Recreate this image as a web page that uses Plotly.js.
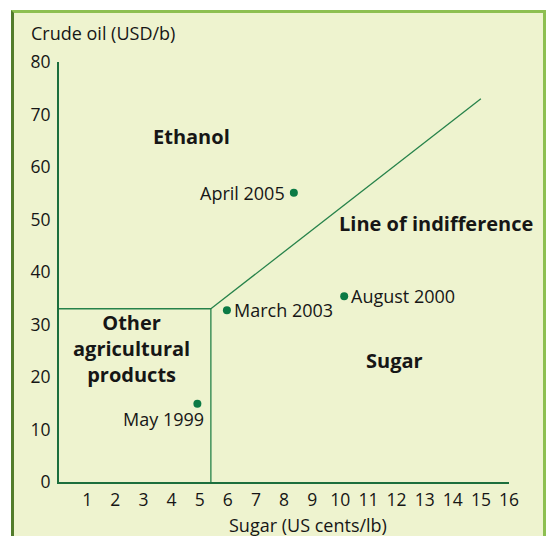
<!DOCTYPE html>
<html>
<head>
<meta charset="utf-8">
<script src="https://cdn.plot.ly/plotly-3.0.1.min.js"></script>
<style>
  html, body { margin: 0; padding: 0; background: #ffffff; width: 546px; height: 536px; overflow: hidden; }
  #frame {
    position: absolute; left: 11px; top: 10px; width: 529px; height: 600px;
    background: #eef3cf;
    border-left: 3px solid #527c2b;
    border-top: 3px solid #8dbf51;
    border-right: 3px solid #8dbf51;
  }
  #chart { position: absolute; left: 0; top: 0; width: 546px; height: 536px; }
</style>
</head>
<body>
<div id="frame"></div>
<div id="chart"></div>
<script>
// ---- data ----
const pointNames  = ["April 2005", "March 2003", "August 2000", "May 1999"];
const sugarPrices = [8.35, 5.97, 10.14, 4.92];   // US cents/lb
const oilPrices   = [55.1, 32.7, 35.4, 14.9];    // USD/b

const otherBoundaryX = [0, 5.4, 5.4];
const otherBoundaryY = [33, 33, 0];
const indifferenceX  = [5.4, 15];
const indifferenceY  = [33, 73];

const xTickValues = [1,2,3,4,5,6,7,8,9,10,11,12,13,14,15,16];
const yTickValues = [0,10,20,30,40,50,60,70,80];

// ---- styles ----
const FONT = "Open Sans, Noto Sans, sans-serif";
const TXT = "#161616";
const AXIS_GREEN = "#1c6e3d";
const LINE_GREEN = "#26824a";
const DOT_GREEN = "#0b7a45";
const LABEL_SIZE = 18;
const TICK_SIZE = 17.5;
const BOLD_SIZE = 20;
// label placement styles per point (anchor, shifts)
const labelStyles = [
  {xanchor: "right", yanchor: "middle", xshift: -7, yshift: 0},
  {xanchor: "left",  yanchor: "middle", xshift: 5,  yshift: 0},
  {xanchor: "left",  yanchor: "middle", xshift: 5,  yshift: 0},
  {xanchor: "right", yanchor: "middle", xshift: 9,  yshift: -15}
];

const traces = [
  {x: otherBoundaryX, y: otherBoundaryY, type: "scatter", mode: "lines",
   line: {color: LINE_GREEN, width: 1.3}, hoverinfo: "skip", cliponaxis: false},
  {x: indifferenceX, y: indifferenceY, type: "scatter", mode: "lines",
   line: {color: LINE_GREEN, width: 1.3}, hoverinfo: "skip", cliponaxis: false},
  {x: sugarPrices, y: oilPrices, type: "scatter", mode: "markers",
   marker: {color: DOT_GREEN, size: 8}, text: pointNames, hoverinfo: "text", cliponaxis: false}
];

const pointAnnotations = pointNames.map((name, i) => Object.assign({
  x: sugarPrices[i], y: oilPrices[i], xref: "x", yref: "y",
  text: name, showarrow: false,
  font: {family: FONT, size: LABEL_SIZE, color: TXT}
}, labelStyles[i]));

const regionFont = {family: FONT, size: BOLD_SIZE, color: TXT};
const regionAnnotations = [
  {x: 4.71, y: 65.9, text: "<b>Ethanol</b>"},
  {x: 13.39, y: 49.2, text: "<b>Line of indifference</b>"},
  {x: 2.56, y: 25.4, text: "<b>Other<br>agricultural<br>products</b>"},
  {x: 11.92, y: 23.2, text: "<b>Sugar</b>"}
].map(a => Object.assign({xref: "x", yref: "y", showarrow: false, xanchor: "center", yanchor: "middle",
  font: regionFont, align: "center"}, a));

const titleAnnotations = [
  {xref: "paper", yref: "paper", x: -0.067, y: 1.070, xanchor: "left", yanchor: "middle",
   text: "Crude oil (USD/b)", showarrow: false, font: {family: FONT, size: LABEL_SIZE, color: TXT}},
  {xref: "paper", yref: "paper", x: 0.553, y: -0.103, xanchor: "center", yanchor: "middle",
   text: "Sugar (US cents/lb)", showarrow: false, font: {family: FONT, size: LABEL_SIZE, color: TXT}}
];

const layout = {
  width: 546, height: 536,
  margin: {l: 59, r: 37, t: 62, b: 54, pad: 0},
  paper_bgcolor: "rgba(0,0,0,0)",
  plot_bgcolor: "rgba(0,0,0,0)",
  showlegend: false,
  font: {family: FONT, size: TICK_SIZE, color: TXT},
  xaxis: {
    range: [0, 16], showgrid: false, zeroline: false,
    showline: true, linecolor: AXIS_GREEN, linewidth: 2,
    tickmode: "array", tickvals: xTickValues, ticktext: xTickValues.map(String),
    ticks: "", ticklabelstandoff: 1,
    tickfont: {family: FONT, size: TICK_SIZE, color: TXT}, fixedrange: true
  },
  yaxis: {
    range: [0, 80], showgrid: false, zeroline: false,
    showline: true, linecolor: AXIS_GREEN, linewidth: 2,
    tickmode: "array", tickvals: yTickValues, ticktext: yTickValues.map(String),
    ticks: "", ticklabelstandoff: 3,
    tickfont: {family: FONT, size: TICK_SIZE, color: TXT}, fixedrange: true
  },
  annotations: pointAnnotations.concat(regionAnnotations, titleAnnotations)
};

Plotly.newPlot("chart", traces, layout, {displayModeBar: false, staticPlot: true});
</script>
</body>
</html>
